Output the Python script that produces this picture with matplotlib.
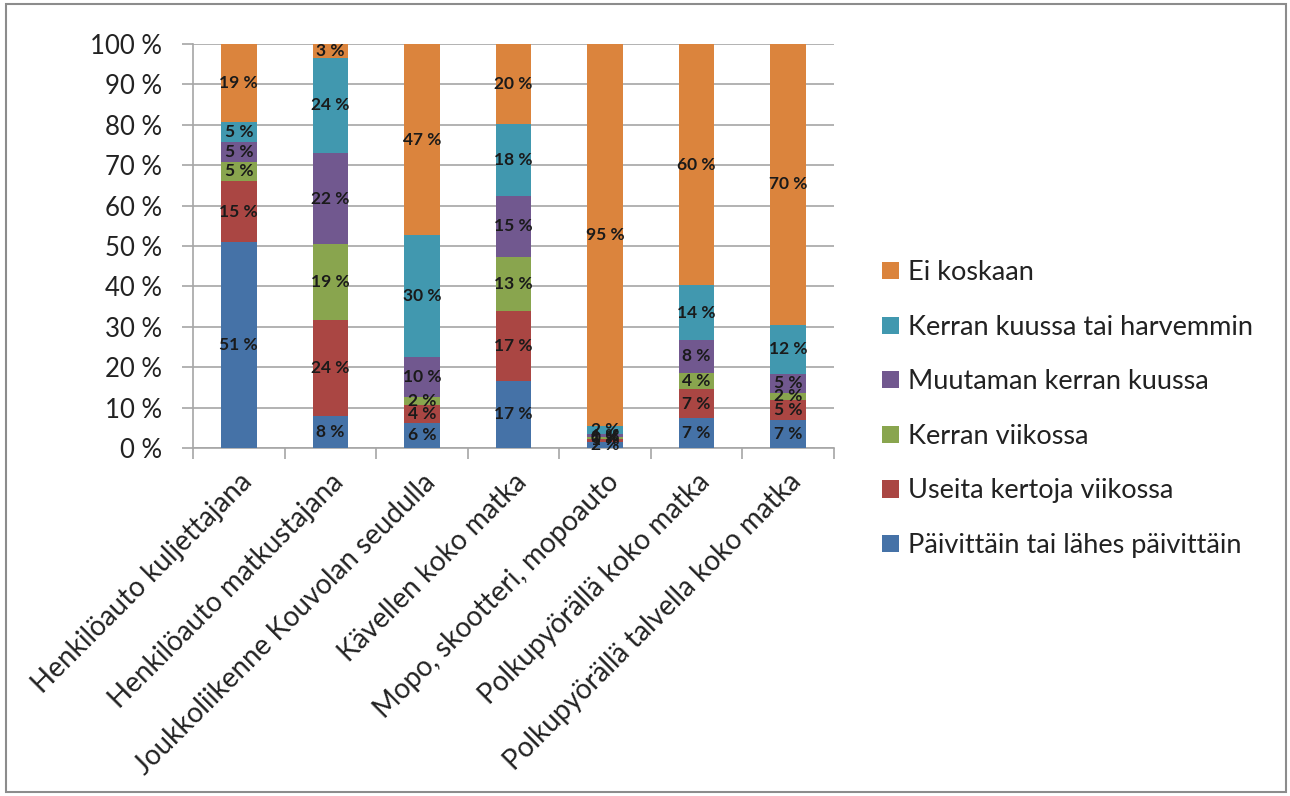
import matplotlib
from matplotlib import pyplot as plt
from matplotlib.patches import Rectangle
import numpy as np

plt.rcParams['font.family'] = ['Lato', 'DejaVu Sans']

categories = ['Henkilöauto kuljettajana',
              'Henkilöauto matkustajana',
              'Joukkoliikenne Kouvolan seudulla',
              'Kävellen koko matka',
              'Mopo, skootteri, mopoauto',
              'Polkupyörällä koko matka',
              'Polkupyörällä talvella koko matka']

series = ['Päivittäin tai lähes päivittäin',
          'Useita kertoja viikossa',
          'Kerran viikossa',
          'Muutaman kerran kuussa',
          'Kerran kuussa tai harvemmin',
          'Ei koskaan']

# shares in percent, one list per series (bottom to top)
paivittain = [50.9, 7.9, 6.2, 16.6, 1.6, 7.4, 6.9]
useita     = [15.2, 23.8, 4.4, 17.3, 0.6, 7.2, 5.0]
kerran_vk  = [4.7, 18.8, 2.0, 13.4, 0.4, 4.0, 1.8]
muutaman   = [5.0, 22.5, 9.9, 15.1, 0.9, 8.1, 4.7]
kerran_kk  = [5.0, 23.6, 30.2, 17.8, 1.9, 13.6, 12.1]
ei_koskaan = [19.2, 3.4, 47.3, 19.8, 94.6, 59.7, 69.5]

values = [paivittain, useita, kerran_vk, muutaman, kerran_kk, ei_koskaan]
colors = ['#4572A7', '#AA4643', '#89A54E', '#71588F', '#4198AF', '#DB843D']

fig = plt.figure(figsize=(12.9, 7.96), dpi=100)
ax = fig.add_axes([193/1290, 1 - 448/796, 641/1290, 404/796])

# outer border of the chart area
fig.patches.append(Rectangle((6/1290, 4/796), 1280/1290, 788/796, transform=fig.transFigure,
                             fill=False, edgecolor='#8c8c8c', linewidth=1.5))

x = np.arange(len(categories))
bottom = np.zeros(len(categories))
handles = []
for vals, col, name in zip(values, colors, series):
    vals = np.array(vals)
    b = ax.bar(x, vals, 0.39, bottom=bottom, color=col, label=name, zorder=3)
    handles.append(b)
    for xi, v, bt in zip(x, vals, bottom):
        ax.text(xi, bt + v / 2, '%d %%' % round(v), ha='center', va='center',
                fontsize=12.5, fontweight='bold', color='#1a1a1a', zorder=4)
    bottom += vals

ax.set_xlim(-0.5, len(categories) - 0.5)
ax.set_ylim(0, 100)
ax.set_yticks(range(0, 101, 10))
ax.set_yticklabels(['%d %%' % t for t in range(0, 101, 10)], fontsize=18.5, color='#222222')
ax.yaxis.grid(True, color='#a6a6a6', linewidth=1.2, zorder=0)
ax.tick_params(axis='y', length=8, width=1.2, color='#a6a6a6', pad=14)

# category labels on centres, tick marks between categories
ax.set_xticks(x)
ax.set_xticklabels(categories, rotation=45, ha='right', rotation_mode='anchor',
                   fontsize=20, color='#222222')
ax.tick_params(axis='x', length=0, pad=15)
ax.set_xticks(np.arange(-0.5, len(categories), 1), minor=True)
ax.tick_params(axis='x', which='minor', length=8, width=1.2, color='#a6a6a6')

for side in ['top', 'right']:
    ax.spines[side].set_visible(False)
for side in ['left', 'bottom']:
    ax.spines[side].set_color('#a6a6a6')
    ax.spines[side].set_linewidth(1.2)

leg = fig.legend(handles[::-1], series[::-1], loc='upper left',
                 bbox_to_anchor=(858/1290, 1 - 236/796), frameon=False,
                 fontsize=19.5, labelspacing=1.09, handlelength=0.6, handleheight=0.6,
                 handletextpad=0.35)
for t in leg.get_texts():
    t.set_color('#222222')

fig.savefig('out.png', dpi=100)
